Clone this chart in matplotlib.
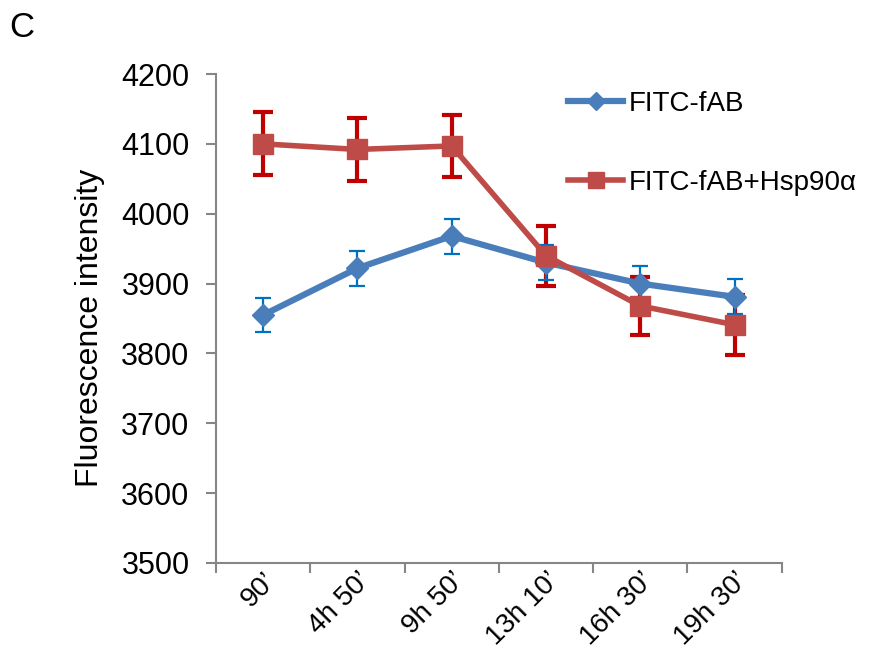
import matplotlib.pyplot as plt
import matplotlib.transforms as mtransforms
from matplotlib.ticker import MultipleLocator, FixedLocator

# Data section
times = ["90\u2019", "4h 50\u2019", "9h 50\u2019", "13h 10\u2019", "16h 30\u2019", "19h 30\u2019"]
fab = [3855, 3922, 3968, 3930, 3900, 3881]
fab_err = [25, 25, 25, 25, 25, 25]
fab_hsp = [4100, 4092, 4097, 3940, 3868, 3841]
fab_hsp_err = [45, 45, 45, 43, 42, 43]

plt.rcParams['font.family'] = ['Liberation Sans', 'DejaVu Sans']

fig = plt.figure(figsize=(8.73, 6.55), dpi=100)
ax = fig.add_axes([0.2474, 0.1405, 0.648, 0.7465])

x = list(range(len(times)))

ax.errorbar(x, fab_hsp, yerr=fab_hsp_err, fmt='none', ecolor='#c00000',
            elinewidth=3, capsize=7, capthick=3, zorder=2)
ax.errorbar(x, fab, yerr=fab_err, fmt='none', ecolor='#0070c0',
            elinewidth=1.6, capsize=6, capthick=1.6, zorder=2)
ax.plot(x, fab, color='#4a7ebb', lw=4.5, marker='D', ms=11,
        label='FITC-fAB', zorder=3)
ax.plot(x, fab_hsp, color='#be4b48', lw=4, marker='s', ms=14,
        label='FITC-fAB+Hsp90\u03b1', zorder=4)

ax.set_xlim(-0.5, len(times) - 0.5)
ax.set_ylim(3500, 4200)
ax.yaxis.set_major_locator(MultipleLocator(100))
ax.set_xticks(x)
ax.set_xticklabels(times, rotation=45, ha='right', rotation_mode='anchor',
                   fontsize=20)
# nudge rotated labels slightly to the right, as in the reference
offset = mtransforms.ScaledTranslation(0.03, 0, fig.dpi_scale_trans)
for lbl in ax.get_xticklabels():
    lbl.set_transform(lbl.get_transform() + offset)
ax.xaxis.set_minor_locator(FixedLocator([i - 0.5 for i in range(len(times) + 1)]))
ax.tick_params(axis='x', which='major', length=0, pad=3)
ax.tick_params(axis='x', which='minor', length=7, width=1.5, color='#868686')
ax.tick_params(axis='y', labelsize=22, length=7, width=1.5, color='#868686', pad=12)

for s in ['top', 'right']:
    ax.spines[s].set_visible(False)
for s in ['left', 'bottom']:
    ax.spines[s].set_color('#868686')
    ax.spines[s].set_linewidth(1.5)

ax.set_ylabel('Fluorescence intensity', fontsize=23)
ax.yaxis.set_label_coords(-0.196, 0.48)

leg = ax.legend(loc='upper left', bbox_to_anchor=(0.622, 0.965), frameon=False,
                fontsize=20, handlelength=2.0, handletextpad=0.18,
                labelspacing=1.9, borderpad=0, borderaxespad=0, markerscale=0.8)

fig.text(0.025, 0.958, 'C', fontsize=25, va='center', ha='center')

plt.savefig('out.png', dpi=100)
plt.close()
